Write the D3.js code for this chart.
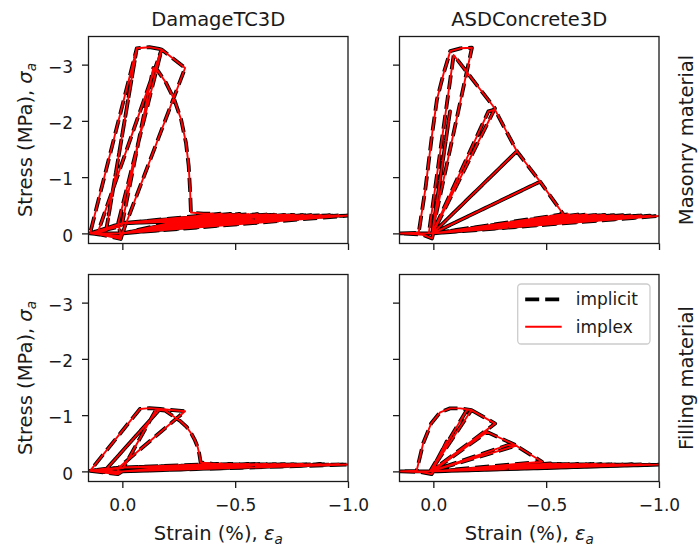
<!DOCTYPE html>
<html>
<head>
<meta charset="utf-8">
<script src="https://cdn.jsdelivr.net/npm/d3@7"></script>
<style>
  body { margin: 0; background: #fff; }
  svg text { font-family: "DejaVu Sans", sans-serif; fill: #1a1a1a; }
</style>
</head>
<body>
<div id="chart"></div>
<script>
var colTitles = ["DamageTC3D", "ASDConcrete3D"]
var rowTitles = ["Masonry material", "Filling material"]
var seriesNames = ["implicit", "implex"]
var xTicks = [0, -0.5, -1]
var yTicks = [0, -1, -2, -3]

// [strain (%), stress (MPa)] along the loading history.
// implicit and implex overlap to within a line width, so both use the same history.
// Each history = pre-peak/softening part + post-peak cycles (peak, then return to the hub).
var dtcMasonry = [
  [0, 0], [0.007, 0.1], [0.05, 0.06], [0.1, 0.02], [0.143, 0],
  [-0.064, -3.29], [0.072, -0.05], [0.143, 0], [0.072, -0.05], [-0.064, -3.29],
  [-0.12, -3.31], [-0.174, -3.27],
  [0.018, -0.19], [0.007, 0.06], [0.11, 0],
  [-0.174, -3.27], [-0.278, -2.94],
  [-0.012, -0.13], [0.004, 0.05], [0.143, 0], [0.003, -0.13],
  [-0.137, -2.94], [-0.154, -2.91], [-0.193, -2.68], [-0.23, -2.38], [-0.26, -2.03],
  [-0.282, -1.61], [-0.294, -1.2], [-0.3, -0.78], [-0.304, -0.37], [-0.36, -0.35]
]
var dtcMasonryPeaks = [
  [-0.4, -0.35], [-0.44, -0.35], [-0.48, -0.345], [-0.52, -0.345], [-0.56, -0.34],
  [-0.6, -0.34], [-0.64, -0.335], [-0.68, -0.335], [-0.72, -0.33], [-0.76, -0.33],
  [-0.8, -0.325], [-0.84, -0.325], [-0.88, -0.32], [-0.92, -0.32], [-0.96, -0.318], [-1.0, -0.315]
]
var dtcMasonryReturn = [[0, 0], [0.143, 0], [0, -0.18]]

var asdMasonry = [
  [0, 0], [0.006, 0.09], [0.05, 0.02], [0.148, 0], [0.065, -0.01],
  [0.035, -0.8], [0.005, -1.78], [-0.016, -2.38], [-0.046, -2.85], [-0.075, -3.24],
  [-0.12, -3.29], [-0.171, -3.3],
  [0.006, 0], [0.148, 0], [0.02, 0],
  [-0.09, -3.17], [-0.273, -2.22],
  [0.003, 0], [0.148, 0], [0.005, 0],
  [-0.074, -2.17], [0.005, 0],
  [-0.244, -2.17], [-0.273, -2.2], [-0.37, -1.46],
  [0.003, 0], [0.148, 0], [0.003, 0],
  [-0.37, -1.46], [-0.473, -0.92],
  [0.003, 0], [0.148, 0], [0.003, 0],
  [-0.473, -0.92]
]
var asdMasonryPeaks = [
  [-0.576, -0.34], [-0.6, -0.34], [-0.64, -0.335], [-0.68, -0.335], [-0.72, -0.33],
  [-0.76, -0.33], [-0.8, -0.325], [-0.84, -0.325], [-0.88, -0.32], [-0.92, -0.32],
  [-0.96, -0.315], [-1.0, -0.31]
]
var asdMasonryReturn = [[0, 0], [0.148, 0], [0, 0]]

var dtcFilling = [
  [0, 0], [0.02, 0.05], [0.08, 0.02], [0.143, -0.01],
  [-0.078, -1.11], [-0.12, -1.125], [-0.167, -1.11],
  [0.069, -0.05], [0.02, 0.04], [0.143, -0.01], [0.069, -0.05],
  [-0.167, -1.11], [-0.278, -1.07],
  [0.018, -0.06], [0.02, 0.03], [0.143, -0.01], [-0.004, -0.06],
  [-0.15, -1.1], [-0.19, -1.08], [-0.226, -0.98], [-0.258, -0.89], [-0.285, -0.79],
  [-0.306, -0.67], [-0.322, -0.55], [-0.334, -0.43], [-0.341, -0.31], [-0.347, -0.16]
]
var dtcFillingPeaks = [
  [-0.4, -0.135], [-0.44, -0.135], [-0.48, -0.13], [-0.52, -0.13], [-0.56, -0.13],
  [-0.6, -0.13], [-0.64, -0.13], [-0.68, -0.128], [-0.72, -0.128], [-0.76, -0.126],
  [-0.8, -0.126], [-0.84, -0.125], [-0.88, -0.124], [-0.92, -0.122], [-0.96, -0.121], [-1.0, -0.12]
]
var dtcFillingReturn = [[0, 0], [0.143, -0.01], [0, -0.07]]

var asdFilling = [
  [0, 0], [0.008, 0.05], [0.06, 0.01], [0.148, 0], [0.074, -0.01],
  [0.045, -0.5], [0.01, -0.85], [-0.03, -1.05], [-0.074, -1.12],
  [-0.12, -1.12], [-0.169, -1.09],
  [0.012, 0], [0.148, 0], [0.015, 0],
  [-0.15, -1.1], [-0.169, -1.09], [-0.274, -0.85],
  [0.01, 0], [0.148, 0], [0.01, 0],
  [-0.059, -0.53], [0.005, 0],
  [-0.238, -0.7], [-0.369, -0.46],
  [0.01, 0], [0.148, 0], [0.01, 0],
  [-0.332, -0.47], [-0.369, -0.45]
]
var asdFillingPeaks = [
  [-0.482, -0.17], [-0.52, -0.14], [-0.56, -0.135], [-0.6, -0.135], [-0.64, -0.13],
  [-0.68, -0.13], [-0.72, -0.13], [-0.76, -0.128], [-0.8, -0.126], [-0.84, -0.125],
  [-0.88, -0.124], [-0.92, -0.122], [-0.96, -0.121], [-1.0, -0.12]
]
var asdFillingReturn = [[0, 0], [0.148, 0], [0, 0]]

function history(head, peaks, back) {
  var h = head.slice()
  peaks.forEach(function (p, i) {
    h.push(p)
    if (i < peaks.length - 1) h = h.concat(back)
  })
  h.push(back[0])
  return h
}

var panelData = [
  [history(dtcMasonry, dtcMasonryPeaks, dtcMasonryReturn), history(asdMasonry, asdMasonryPeaks, asdMasonryReturn)],
  [history(dtcFilling, dtcFillingPeaks, dtcFillingReturn), history(asdFilling, asdFillingPeaks, asdFillingReturn)]
]

var width = 699,
  height = 549
var colX = [88.5, 399.5],
  rowY = [36.5, 274.5]
var panelW = 259.5,
  panelH = 207

var styles = {
  implicit: { stroke: "#000", width: 3.8, dash: "14,6" },
  implex: { stroke: "#ff0000", width: 1.9, dash: null }
}

var x = d3.scaleLinear().domain([0.15, -1.0]).range([0, panelW])
var y = d3.scaleLinear().domain([0.18, -3.5]).range([panelH, 0])

var line = d3.line()
  .x(function (d) { return x(d[0]) })
  .y(function (d) { return y(d[1]) })

var svg = d3.select("#chart")
  .append("svg")
  .attr("width", width)
  .attr("height", height)

svg.append("rect")
  .attr("width", width)
  .attr("height", height)
  .attr("fill", "#fff")

panelData.forEach(function (row, r) {
  row.forEach(function (data, c) {
    var g = svg.append("g")
      .attr("transform", "translate(" + colX[c] + "," + rowY[r] + ")")

    var clipId = "clip" + r + c
    g.append("clipPath").attr("id", clipId)
      .append("rect")
      .attr("width", panelW)
      .attr("height", panelH)

    var plot = g.append("g").attr("clip-path", "url(#" + clipId + ")")

    seriesNames.forEach(function (name) {
      var s = styles[name]
      plot.append("path")
        .datum(data)
        .attr("d", line)
        .attr("fill", "none")
        .attr("stroke", s.stroke)
        .attr("stroke-width", s.width)
        .attr("stroke-dasharray", s.dash)
        .attr("stroke-linejoin", "round")
    })

    var xAxis = d3.axisBottom(x)
      .tickValues(xTicks)
      .tickSize(6.5)
      .tickPadding(10.5)
      .tickFormat(r == 1 ? d3.format(".1f") : function () { return "" })

    var yAxis = d3.axisLeft(y)
      .tickValues(yTicks)
      .tickSize(6.5)
      .tickPadding(9)
      .tickFormat(c == 0 ? d3.format("d") : function () { return "" })

    var gx = g.append("g")
      .attr("transform", "translate(0," + panelH + ")")
      .call(xAxis)
    var gy = g.append("g").call(yAxis)

    ;[gx, gy].forEach(function (ax) {
      ax.select(".domain").remove()
      ax.selectAll(".tick line").attr("stroke", "#1a1a1a").attr("stroke-width", 1.3)
      ax.selectAll(".tick text")
        .attr("fill", "#1a1a1a")
        .style("font-size", "17px")
        .style("font-family", "DejaVu Sans")
    })
    gy.selectAll(".tick text").attr("dy", "0.46em")

    g.append("rect")
      .attr("width", panelW)
      .attr("height", panelH)
      .attr("fill", "none")
      .attr("stroke", "#1a1a1a")
      .attr("stroke-width", 1.3)

    if (r == 0) {
      g.append("text")
        .attr("x", panelW / 2)
        .attr("y", 26 - rowY[0])
        .attr("text-anchor", "middle")
        .style("font-size", "19.5px")
        .text(colTitles[c])
    }

    if (c == 1) {
      g.append("text")
        .attr("transform", "translate(" + (692.5 - colX[1]) + "," + panelH / 2 + ") rotate(-90)")
        .attr("text-anchor", "middle")
        .style("font-size", "19.5px")
        .text(rowTitles[r])
    }

    if (c == 0) {
      var yl = g.append("text")
        .attr("transform", "translate(" + (31.5 - colX[0]) + "," + panelH / 2 + ") rotate(-90)")
        .attr("text-anchor", "middle")
        .style("font-size", "19.5px")
      yl.append("tspan").text("Stress (MPa), ")
      yl.append("tspan").style("font-style", "italic").text("\u03c3")
      yl.append("tspan").style("font-style", "italic").style("font-size", "13.5px").attr("dy", "4").text("a")
    }

    if (r == 1) {
      var xl = g.append("text")
        .attr("x", panelW / 2)
        .attr("y", 540 - rowY[1])
        .attr("text-anchor", "middle")
        .style("font-size", "19.5px")
      xl.append("tspan").text("Strain (%), ")
      xl.append("tspan").style("font-style", "italic").text("\u03b5")
      xl.append("tspan").style("font-style", "italic").style("font-size", "13.5px").attr("dy", "4").text("a")
    }

    if (r == 1 && c == 1) {
      var lg = g.append("g").attr("transform", "translate(118.2,9.5)")
      lg.append("rect")
        .attr("width", 132.3)
        .attr("height", 60)
        .attr("rx", 3.5)
        .attr("fill", "#fff")
        .attr("fill-opacity", 0.8)
        .attr("stroke", "#cccccc")
        .attr("stroke-width", 1.3)
      seriesNames.forEach(function (name, i) {
        var s = styles[name]
        var ly = 15.3 + i * 27.4
        lg.append("line")
          .attr("x1", 7.5).attr("x2", 44)
          .attr("y1", ly).attr("y2", ly)
          .attr("stroke", s.stroke)
          .attr("stroke-width", s.width)
          .attr("stroke-dasharray", s.dash)
        lg.append("text")
          .attr("x", 58)
          .attr("y", ly)
          .attr("dy", "0.35em")
          .style("font-size", "17px")
          .text(name)
      })
    }
  })
})
</script>
</body>
</html>
